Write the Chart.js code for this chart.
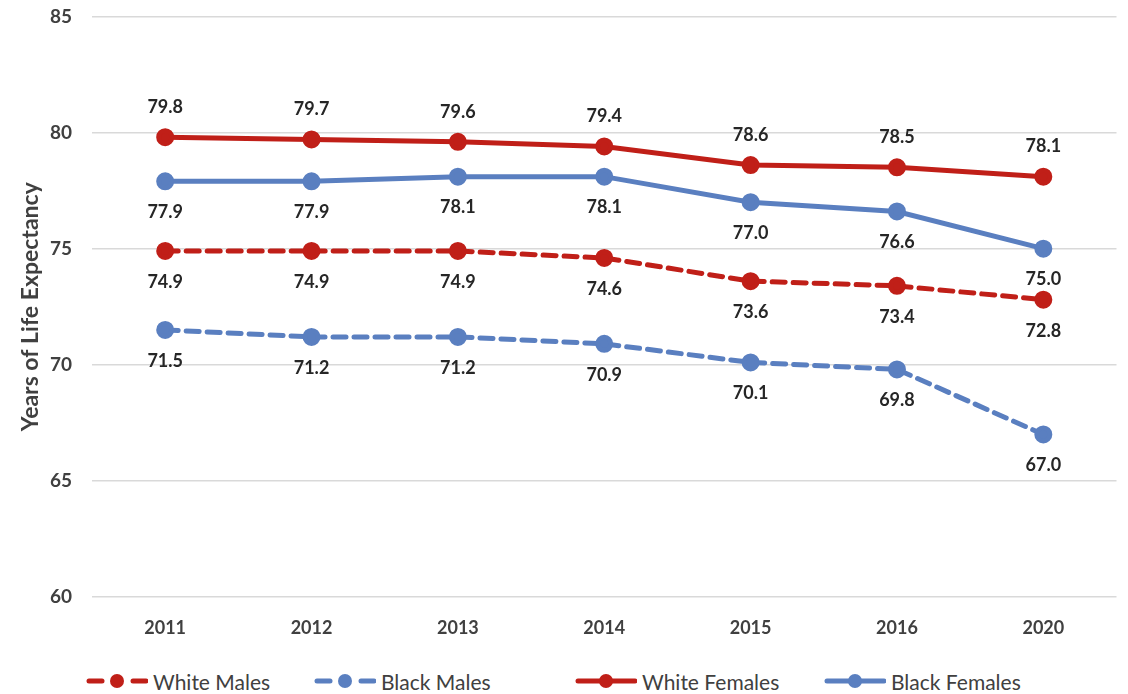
<!DOCTYPE html>
<html>
<head>
<meta charset="utf-8">
<script src="https://cdn.jsdelivr.net/npm/chart.js@4.4.0/dist/chart.umd.min.js"></script>
<style>
  html, body { margin: 0; padding: 0; background: #fff; overflow: hidden; }
  #wrap { position: relative; width: 1128px; height: 694px; overflow: hidden; font-family: Lato, "Open Sans", sans-serif; }
  #chartBox { position: absolute; left: 0; top: -15px; width: 1128px; height: 665px; }
  .leg { position: absolute; top: 667px; height: 28px; display: flex; align-items: center; font-size: 21px; color: #404040; }
  .leg svg { margin-right: 5px; }
</style>
</head>
<body>
<div id="wrap">
  <div id="chartBox"><canvas id="lifeChart"></canvas></div>
  <div id="legend"></div>
</div>
<script>
// chart data
const years = ['2011', '2012', '2013', '2014', '2015', '2016', '2020'];
const whiteMales = [74.9, 74.9, 74.9, 74.6, 73.6, 73.4, 72.8];
const blackMales = [71.5, 71.2, 71.2, 70.9, 70.1, 69.8, 67.0];
const whiteFemales = [79.8, 79.7, 79.6, 79.4, 78.6, 78.5, 78.1];
const blackFemales = [77.9, 77.9, 78.1, 78.1, 77.0, 76.6, 75.0];
const yTicks = [60, 65, 70, 75, 80, 85];

const RED = '#C01F18';
const BLUE = '#5A7FC0';

function series(label, data, color, dashed, labelPos) {
  return {
    label: label,
    data: data,
    borderColor: color,
    backgroundColor: color,
    pointBackgroundColor: color,
    pointBorderColor: color,
    borderWidth: 5,
    borderDash: dashed ? [13, 8] : [],
    borderCapStyle: 'round',
    pointRadius: 6.5,
    pointHoverRadius: 6.5,
    tension: 0,
    labelPos: labelPos
  };
}

// draws the value labels above/below each point
const valueLabels = {
  id: 'valueLabels',
  afterDatasetsDraw(chart) {
    const ctx = chart.ctx;
    ctx.save();
    ctx.font = 'bold 18px Lato, "Open Sans", sans-serif';
    ctx.fillStyle = '#262626';
    ctx.textAlign = 'center';
    ctx.textBaseline = 'middle';
    chart.data.datasets.forEach((ds, i) => {
      const meta = chart.getDatasetMeta(i);
      meta.data.forEach((pt, j) => {
        const dy = ds.labelPos === 'above' ? -30 : 31;
        ctx.fillText(ds.data[j].toFixed(1), pt.x, pt.y + dy);
      });
    });
    ctx.restore();
  }
};

const lifeChart = new Chart(document.getElementById('lifeChart'), {
  type: 'line',
  data: {
    labels: years,
    datasets: [
      series('White Males', whiteMales, RED, true, 'below'),
      series('Black Males', blackMales, BLUE, true, 'below'),
      series('White Females', whiteFemales, RED, false, 'above'),
      series('Black Females', blackFemales, BLUE, false, 'below')
    ]
  },
  options: {
    responsive: true,
    maintainAspectRatio: false,
    animation: false,
    events: [],
    layout: { padding: { top: 2, right: 10, left: 0, bottom: 0 } },
    plugins: {
      legend: { display: false },
      tooltip: { enabled: false }
    },
    scales: {
      x: {
        offset: true,
        grid: { display: false },
        border: { display: false },
        ticks: {
          padding: 12,
          color: '#404040',
          font: { family: 'Lato', size: 18, weight: 'bold' }
        },
        afterFit(scale) { scale.height = 53; }
      },
      y: {
        min: 60,
        max: 85,
        afterBuildTicks(scale) { scale.ticks = yTicks.map(v => ({ value: v })); },
        grid: { color: '#D9D9D9', lineWidth: 1.5, drawTicks: false },
        border: { display: false },
        ticks: {
          padding: 20,
          color: '#404040',
          font: { family: 'Lato', size: 19, weight: 'bold' }
        },
        title: {
          display: true,
          text: 'Years of Life Expectancy',
          color: '#404040',
          font: { family: 'Lato', size: 23, weight: 'bold' },
          padding: { top: 17, bottom: 0 }
        },
        afterFit(scale) { scale.width = 92; }
      }
    }
  },
  plugins: [valueLabels]
});

// legend below the chart
const legendItems = [
  { label: 'White Males', color: RED, dashed: true, left: 86 },
  { label: 'Black Males', color: BLUE, dashed: true, left: 314 },
  { label: 'White Females', color: RED, dashed: false, left: 575 },
  { label: 'Black Females', color: BLUE, dashed: false, left: 824 }
];
const legendBox = document.getElementById('legend');
legendItems.forEach(item => {
  const div = document.createElement('div');
  div.className = 'leg';
  div.style.left = item.left + 'px';
  const line = item.dashed
    ? '<line x1="3" y1="14" x2="16" y2="14" /><line x1="47" y1="14" x2="60" y2="14" />'
    : '<line x1="3" y1="14" x2="60" y2="14" />';
  div.innerHTML =
    '<svg width="62" height="28"><g stroke="' + item.color + '" stroke-width="5" stroke-linecap="round">' +
    line + '</g><circle cx="31" cy="14" r="7" fill="' + item.color + '" /></svg>' +
    '<span>' + item.label + '</span>';
  legendBox.appendChild(div);
});
</script>
</body>
</html>
